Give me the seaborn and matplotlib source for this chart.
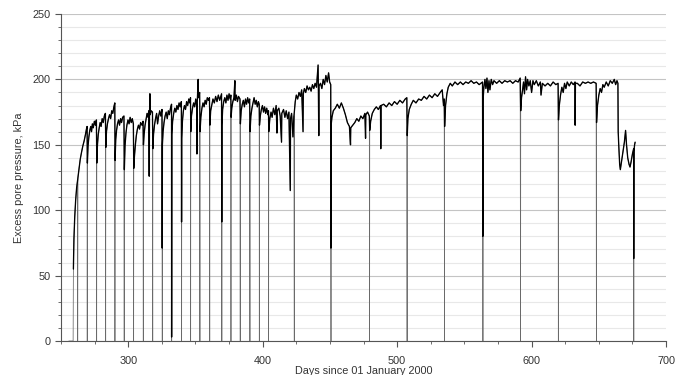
import numpy as np
import matplotlib
matplotlib.use("Agg")
from matplotlib import pyplot as plt
from matplotlib.ticker import MultipleLocator
import seaborn as sns

# readings (day since 01 Jan 2000, excess pore pressure kPa); zeros are the pump-outs
days_a = [255.8, 259.0, 259.2, 259.6, 260.2, 260.9, 261.6, 262.2, 262.4,
          262.6, 263.4, 264.3, 265.2, 266.2, 267.2, 268.2, 268.9, 269.4, 269.5,
          269.6, 270.1, 270.7, 271.4, 272.1, 272.7, 273.3, 274.0, 274.8, 275.6, 276.3, 276.5,
          276.6, 277.1, 277.7, 278.4, 279.1, 279.8, 280.6, 281.4, 282.2, 283.0, 283.2,
          283.3, 283.8, 284.5, 285.3, 286.1, 286.9, 287.7, 288.5, 289.3, 290.0, 290.1,
          290.2, 290.7, 291.3, 292.0, 292.8, 293.5, 294.3, 295.0, 295.8, 296.8, 297.0,
          297.1, 297.6, 298.3, 299.0, 299.8, 300.6, 301.4, 302.2, 303.0, 303.8, 304.0,
          304.1, 304.6, 305.3, 306.0, 306.8, 307.6, 308.4, 309.2, 310.2, 311.0, 311.2,
          311.3, 311.8, 312.5, 313.3, 314.0, 314.7, 315.3, 315.6, 315.8, 316.1, 316.3, 317.1, 318.0, 318.2,
          318.3, 318.8, 319.5, 320.3, 321.1, 321.8, 322.6, 323.4, 324.2, 325.1, 325.25, 325.3,
          325.4, 325.9, 326.6, 327.4, 328.2, 329.0, 329.8, 330.6, 331.4, 332.2, 332.25, 332.3]
kpa_a = [0, 0, 55, 78, 95, 108, 117, 122, 0,
         125, 132, 139, 144, 149, 153, 158, 162, 164, 0,
         136, 149, 156, 161, 164, 160, 166, 163, 168, 165, 169, 0,
         136, 150, 158, 163, 167, 164, 170, 167, 172, 174, 0,
         148, 160, 166, 170, 173, 170, 176, 174, 179, 182, 0,
         138, 154, 161, 166, 169, 165, 170, 167, 171, 172, 0,
         131, 149, 159, 165, 169, 166, 171, 167, 170, 166, 0,
         132, 141, 150, 157, 162, 165, 162, 167, 165, 168, 0,
         150, 158, 165, 170, 174, 171, 176, 126, 172, 189, 173, 176, 175, 0,
         147, 158, 165, 170, 174, 166, 172, 176, 172, 177, 71, 0,
         150, 160, 167, 172, 175, 170, 176, 173, 178, 181, 3, 0]

days_b = [332.4, 333.0, 333.8, 334.6, 335.4, 336.2, 337.0, 337.8, 338.6, 339.5, 339.65, 339.7,
          339.8, 340.3, 341.0, 341.8, 342.6, 343.4, 344.2, 345.0, 345.8, 346.3, 346.4,
          346.5, 347.0, 347.8, 348.6, 349.4, 350.2, 350.9, 351.1, 351.3, 352.0, 352.2, 353.1, 353.3,
          353.4, 354.0, 354.8, 355.6, 356.4, 357.2, 358.0, 358.8, 359.6, 360.4, 360.6,
          360.7, 361.3, 362.2, 363.0, 364.0, 365.0, 366.0, 367.0, 368.0, 369.4, 369.55, 369.6,
          369.7, 370.2, 371.0, 371.8, 372.6, 373.4, 374.2, 375.0, 375.8, 376.3, 376.4,
          376.5, 377.0, 377.8, 378.6, 379.3, 379.5, 380.4, 381.2, 382.0, 383.1, 383.3,
          383.4, 384.0, 384.8, 385.6, 386.4, 387.2, 388.0, 388.8, 389.6, 390.3, 390.5,
          390.6, 391.2, 392.0, 392.8, 393.6, 394.4, 395.2, 396.0, 396.8, 397.4, 397.5,
          397.6, 398.2, 399.0, 399.8, 400.6, 401.4, 402.2, 403.0, 403.8, 404.3, 404.4,
          404.5, 405.3, 406.2, 407.0, 408.0, 409.0, 410.0, 410.6, 410.8, 412.0, 413.0, 414.0,
          414.2, 415.5, 416.5, 417.5, 418.5, 419.5, 420.5, 420.7, 421.5, 422.5, 423.2, 423.5]
kpa_b = [158, 168, 174, 178, 175, 180, 177, 182, 179, 183, 91, 0,
         155, 168, 176, 180, 177, 183, 180, 185, 182, 186, 0,
         160, 172, 178, 182, 179, 185, 180, 143, 182, 200, 186, 190, 0,
         160, 171, 178, 182, 179, 184, 181, 186, 184, 186, 0,
         165, 176, 181, 185, 182, 187, 183, 188, 184, 189, 91, 0,
         165, 177, 183, 186, 182, 188, 184, 189, 185, 188, 0,
         171, 178, 183, 186, 199, 184, 188, 183, 187, 185, 0,
         166, 176, 181, 184, 179, 185, 181, 186, 182, 185, 0,
         160, 172, 178, 182, 186, 181, 184, 179, 183, 181, 0,
         165, 172, 177, 180, 175, 179, 174, 178, 173, 176, 0,
         160, 170, 175, 171, 178, 173, 180, 159, 176, 178, 172, 152,
         174, 177, 171, 176, 170, 175, 115, 170, 174, 156, 172, 0]

days_c = [423.6, 424.2, 425.0, 426.0, 427.0, 428.0, 429.0, 430.0, 430.2, 431.0, 432.0,
          433.0, 434.0, 435.0, 436.0, 437.0, 438.0, 439.0, 440.0, 441.2, 441.4, 441.7,
          441.9, 443.0, 444.0, 445.0, 446.0, 447.0, 448.0, 449.0, 449.8, 450.6, 450.75, 450.8,
          450.9, 451.5, 452.5, 454.0, 455.5, 457.0, 458.5, 460.0, 461.5, 463.0, 464.5,
          465.3, 465.5, 467.0, 468.5, 470.0, 471.5, 473.0, 474.5, 476.0, 476.5, 476.7,
          478.0, 479.3, 479.5,
          479.6, 480.3, 481.5, 483.0, 484.5, 486.0, 487.6, 487.8, 488.0, 490.0, 492.0,
          494.0, 496.0, 498.0, 500.0, 502.0, 504.0, 506.0, 507.2, 507.4,
          507.5, 508.0, 509.0, 510.5, 512.0, 514.0, 516.0, 518.0, 520.0, 522.0, 524.0,
          526.0, 528.0, 530.0, 532.0, 533.5, 534.5, 535.0, 535.2]
kpa_c = [176, 183, 188, 185, 190, 187, 192, 160, 189, 193, 190,
         195, 192, 194, 191, 196, 193, 197, 194, 211, 194, 157,
         195, 197, 193, 200, 196, 203, 198, 205, 198, 196, 71, 0,
         165, 171, 176, 178, 181, 178, 182, 178, 173, 167, 164,
         150, 163, 165, 167, 170, 168, 172, 170, 174, 155, 173,
         175, 172, 0,
         161, 168, 174, 177, 179, 177, 180, 147, 180, 181, 179,
         182, 180, 183, 181, 184, 182, 185, 186, 0,
         157, 170, 177, 181, 184, 182, 185, 184, 187, 185, 188,
         186, 189, 187, 190, 192, 180, 185, 0]

days_d = [535.3, 536.0, 537.0, 538.0, 539.5, 541.0, 543.0, 545.0, 547.0, 549.0, 551.0,
          553.0, 555.0, 557.0, 559.0, 561.0, 563.5, 563.75, 563.8,
          563.9, 564.5, 565.3, 566.0, 566.8, 567.5, 568.3, 569.0, 570.0, 571.0, 572.0,
          574.0, 576.0, 578.0, 580.0, 582.0, 584.0, 586.0, 588.0, 590.0, 591.5, 591.8,
          591.9, 592.5, 593.3, 594.0, 594.7, 595.5, 596.3, 597.0, 598.0, 599.0, 600.0,
          601.0, 602.0, 603.5, 605.0, 606.5, 607.0, 608.0, 610.0, 612.0, 614.0, 616.0,
          618.0, 619.7, 619.9,
          620.0, 620.6, 621.5, 622.5, 623.5, 624.5, 625.5, 626.5, 628.0, 629.5, 631.0,
          632.3, 632.4, 632.6, 634.0, 636.0, 638.0, 640.0, 642.0, 644.0, 646.0, 648.0, 648.2,
          648.3, 649.0, 650.0, 651.0, 652.0, 653.0, 654.0, 655.5, 657.0, 658.5, 660.0,
          661.5, 662.5, 663.5, 664.2, 664.4, 664.8, 665.5, 666.0, 667.0, 668.0, 669.0,
          669.9, 670.6, 671.5, 672.5, 673.2, 674.0, 675.0, 675.9, 675.95, 676.0, 676.1, 676.6, 677.0]
kpa_d = [164, 180, 189, 194, 197, 195, 198, 196, 198, 196, 198,
         197, 199, 197, 198, 196, 198, 80, 0,
         184, 194, 200, 193, 201, 190, 199, 192, 200, 196, 199,
         197, 199, 197, 199, 198, 199, 197, 199, 198, 201, 0,
         176, 186, 192, 198, 189, 202, 192, 200, 195, 199, 190,
         199, 196, 199, 195, 198, 188, 197, 195, 197, 195, 198,
         196, 197, 0,
         169, 180, 188, 194, 190, 197, 193, 198, 195, 198, 196,
         198, 165, 197, 197, 195, 198, 197, 198, 197, 198, 197, 0,
         167, 180, 188, 193, 190, 196, 194, 198, 195, 199, 197,
         200, 196, 199, 197, 160, 150, 135, 131, 138, 145, 152,
         161, 150, 140, 135, 133, 137, 143, 147, 63, 0, 145, 150, 152]

days = np.array(days_a + days_b + days_c + days_d)
kpa = np.array(kpa_a + kpa_b + kpa_c + kpa_d)
on = kpa > 0  # readings between the pump-outs

sns.set_theme(style="white")
plt.rcParams['font.family'] = ['Liberation Sans', 'DejaVu Sans']

fig = plt.figure(figsize=(6.88, 3.75), dpi=100)
ax = fig.add_axes([0.0887, 0.0907, 0.8794, 0.872])

# full record (incl. drops) as thin grey hairline, pressure band on top in black
sns.lineplot(x=days, y=kpa, estimator=None, sort=False, color='#6a6a6a',
             linewidth=0.55, ax=ax)
sns.lineplot(x=days[on], y=kpa[on], estimator=None, sort=False, color='black',
             linewidth=0.95, ax=ax)

ax.set_xlim(250, 700)
ax.set_ylim(0, 250)
ax.xaxis.set_major_locator(MultipleLocator(100))
ax.xaxis.set_minor_locator(MultipleLocator(25))
ax.yaxis.set_major_locator(MultipleLocator(50))
ax.yaxis.set_minor_locator(MultipleLocator(10))

ax.grid(which='major', axis='y', color='#c4c4c4', linewidth=0.8)
ax.grid(which='minor', axis='y', color='#e8e8e8', linewidth=0.8)
ax.grid(which='both', axis='x', visible=False)
ax.set_axisbelow(True)

for s in ['top', 'right']:
    ax.spines[s].set_visible(False)
for s in ['left', 'bottom']:
    ax.spines[s].set_color('#555555')
    ax.spines[s].set_linewidth(0.8)

ax.tick_params(which='major', direction='out', length=4, width=0.8, color='#555555',
               labelsize=7.8, labelcolor='#333333', left=True, bottom=True)
ax.tick_params(axis='x', which='major', pad=7)
ax.tick_params(which='minor', direction='out', length=2.5, width=0.6, color='#555555',
               left=True, bottom=True)

ax.set_xlabel('Days since 01 January 2000', fontsize=7.8, color='#333333', labelpad=0)
ax.set_ylabel('Excess pore pressure, kPa', fontsize=7.8, color='#333333', labelpad=6)

fig.savefig('out.png', dpi=100)
